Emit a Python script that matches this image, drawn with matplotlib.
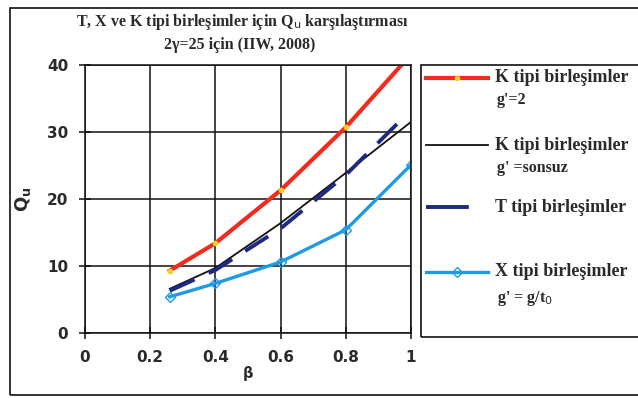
import matplotlib.pyplot as plt
from matplotlib.lines import Line2D
from matplotlib.patches import Rectangle

beta = [0.26, 0.4, 0.6, 0.8, 1.0]
k_g2 = [9.3, 13.4, 21.3, 30.7, 41.6]
k_inf = [6.6, 9.7, 16.4, 23.9, 31.5]
beta_t = [0.26, 0.4, 0.6, 0.8, 0.98]
t_joint = [6.3, 9.4, 15.6, 23.6, 32.3]
x_joint = [5.4, 7.4, 10.6, 15.4, 25.1]

red = '#f42a1c'
dblue = '#1c2a80'
lblue = '#1e9ae6'
txt = '#2a2a2a'
serif = 'Liberation Serif'

fig = plt.figure(figsize=(6.38, 3.98), dpi=100)
ax = fig.add_axes([85/638, 1-333/398, 326/638, 268/398])

ax.plot(beta, k_g2, color=red, lw=3, marker='o', ms=3, mfc='#f4d020', mec='#f4d020', clip_on=True)
ax.plot(beta, k_inf, color='#111111', lw=1.3)
ax.plot(beta_t, t_joint, color=dblue, lw=2.8, dashes=(7, 4))
ax.plot(beta, x_joint, color=lblue, lw=2.4, marker='D', ms=5, mfc='none', mec=lblue)

ax.set_xlim(0, 1)
ax.set_ylim(0, 40)
ax.set_xticks([0, 0.2, 0.4, 0.6, 0.8, 1])
ax.set_xticklabels(['0', '0.2', '0.4', '0.6', '0.8', '1'])
ax.set_yticks([0, 10, 20, 30, 40])
ax.grid(True, color='#111111', lw=1.1)
for s in ax.spines.values():
    s.set_color('#111111')
    s.set_linewidth(1.1)
ax.tick_params(direction='inout', length=8, width=1.1, colors='#111111', labelsize=11,
               labelcolor=txt, pad=8)
for lab in ax.get_xticklabels() + ax.get_yticklabels():
    lab.set_fontweight('bold')
ax.set_xlabel('β', fontsize=10.5, fontweight='bold', color=txt, labelpad=1)
ax.set_ylabel(r'$\mathbf{Q_u}$', fontsize=13, color=txt, labelpad=10)

fig.text(0.38, 1-22/398, 'T, X ve K tipi birleşimler için Q$_\\mathrm{u}$ karşılaştırması',
         family=serif, fontweight='bold', fontsize=11.5, ha='center', va='center', color=txt)
fig.text(0.375, 1-45/398, '2γ=25 için (IIW, 2008)', family=serif, fontweight='bold',
         fontsize=11.5, ha='center', va='center', color=txt)

# outer frame and legend box
fig.patches.append(Rectangle((10/638, 1-395/398), 640/638, 387/398, transform=fig.transFigure,
                             fill=False, ec='#111111', lw=1.2))
fig.patches.append(Rectangle((421/638, 1-337/398), 230/638, 272/398, transform=fig.transFigure,
                             fill=False, ec='#111111', lw=1.2))

def fx(p):
    return p/638

def fy(p):
    return 1-p/398

fig.lines.append(Line2D([fx(426), fx(488)], [fy(78), fy(78)], transform=fig.transFigure,
                        color=red, lw=3))
fig.lines.append(Line2D([fx(457)], [fy(78)], transform=fig.transFigure, marker='o', ms=3,
                        mfc='#f4d020', mec='#f4d020', ls='none'))
fig.lines.append(Line2D([fx(426), fx(488)], [fy(145), fy(145)], transform=fig.transFigure,
                        color='#111111', lw=1.3))
fig.lines.append(Line2D([fx(426), fx(488)], [fy(207), fy(207)], transform=fig.transFigure,
                        color=dblue, lw=2.8, dashes=(11, 6)))
fig.lines.append(Line2D([fx(426), fx(488)], [fy(272), fy(272)], transform=fig.transFigure,
                        color=lblue, lw=2.4))
fig.lines.append(Line2D([fx(457)], [fy(272)], transform=fig.transFigure, marker='D', ms=5,
                        mfc='none', mec=lblue, ls='none'))

legend_texts = [
    (78, 'K tipi birleşimler', 13),
    (100, "g'=2", 11.5),
    (145, 'K tipi birleşimler', 13),
    (168, "g' =sonsuz", 11.5),
    (207, 'T tipi birleşimler', 13),
    (272, 'X tipi birleşimler', 13),
    (298, "g' = g/t$_\\mathrm{0}$", 11.5),
]
for ypix, s, fs in legend_texts:
    xp = 495 if fs == 13 else 497
    fig.text(fx(xp), fy(ypix), s, family=serif, fontweight='bold', fontsize=fs,
             ha='left', va='center', color=txt)

fig.savefig('out.png', dpi=100)
